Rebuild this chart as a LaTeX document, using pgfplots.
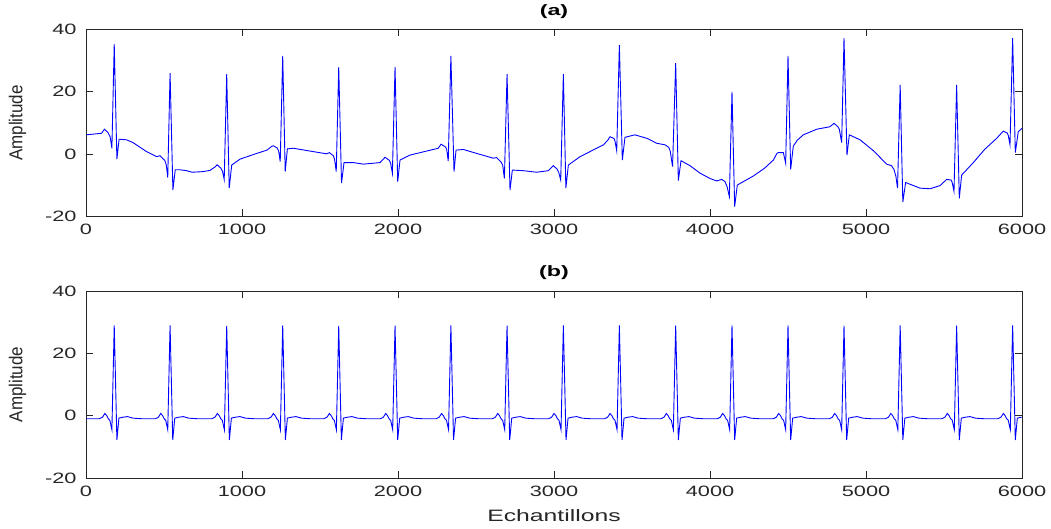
\documentclass[border=0pt]{standalone}
\usepackage{pgfplots}
\pgfplotsset{compat=1.18}
\usepackage{fontspec}
\setmainfont{Liberation Sans}
\definecolor{axc}{RGB}{38,38,38}
\definecolor{sig}{RGB}{0,0,255}
\pgfplotsset{
  ecg/.style={
    scale only axis, width=936pt, height=187pt,
    xmin=0, xmax=6000, ymin=-20, ymax=40,
    xtick={0,1000,...,6000}, ytick={-20,0,20,40},
    tick align=inside, tickpos=both,
    major tick length=7pt,
    axis line style={axc, line width=0.7pt},
    every tick/.style={axc, line width=0.9pt},
    scaled ticks=false,
    /pgf/number format/1000 sep={},
    /pgf/number format/assume math mode=true,
    tick label style={font=\fontsize{15}{15}\selectfont, text=axc, xscale=1.45},
    xticklabel style={yshift=-4pt},
    yticklabel style={xshift=-3pt},
    ylabel={Amplitude},
    ylabel shift=10pt,
    ylabel style={font=\fontsize{17}{17}\selectfont, text=axc, yscale=1.1},
    title style={font=\fontsize{15}{15}\selectfont\bfseries, text=black, xscale=1.55, at={(0.5,1)}, anchor=base, yshift=8pt},
    clip=true,
  }
}
\begin{document}
\begin{tikzpicture}
\begin{axis}[ecg, at={(86pt,312.5pt)}, anchor=south west, title={(a)}]
\addplot[sig, line width=0.9pt] coordinates {
(0,6.2) (100,6.7) (118,8.0) (140,7.0) (155,5.5) (166,1.9) (181,35.3) (198,-1.6) (212,4.8) (260,4.6) (302,3.7) (389,0.8) (453,-0.8)
(474,-0.5) (505,-2.0) (515,-3.5) (524,-7.5) (539,26.0) (557,-11.5) (572,-5.0) (600,-5.0) (645,-5.3) (680,-5.8) (750,-5.6) (795,-5.2) (830,-4.0)
(840,-3.4) (865,-4.5) (875,-5.5) (886,-8.1) (902,25.7) (918,-10.9) (934,-3.5) (987,-1.6) (1080,0.0) (1160,1.3) (1190,2.5)
(1200,2.7) (1225,2.0) (1235,1.0) (1245,-2.4) (1261,31.5) (1277,-5.6) (1291,1.7) (1330,1.9) (1400,1.3) (1543,0.1)
(1560,0.5) (1585,-0.5) (1593,-1.5) (1604,-5.6) (1620,27.9) (1638,-9.3) (1654,-2.7) (1714,-2.7) (1778,-3.2) (1885,-2.7)
(1917,-1.0) (1945,-2.0) (1953,-3.0) (1964,-6.1) (1981,27.9) (1998,-8.8) (2013,-1.9) (2077,-0.3) (2258,1.9)
(2276,3.2) (2305,2.3) (2312,1.5) (2322,-2.2) (2339,31.5) (2359,-5.6) (2372,1.3) (2419,1.5) (2500,0.3) (2611,-1.3)
(2632,-1.1) (2660,-2.5) (2671,-3.5) (2682,-7.8) (2699,25.7) (2718,-11.5) (2733,-5.1) (2803,-5.3) (2889,-5.8) (2964,-5.3)
(2996,-3.7) (3020,-4.8) (3030,-5.8) (3043,-8.3) (3060,25.7) (3076,-10.9) (3092,-3.5) (3167,-0.8) (3317,3.0) (3345,4.5)
(3359,5.6) (3385,5.0) (3391,4.2) (3402,1.1) (3419,35.0) (3438,-1.9) (3455,5.4) (3519,6.2) (3600,5.0) (3658,3.5) (3711,3.0)
(3735,2.2) (3745,1.0) (3760,-4.0) (3780,29.2) (3797,-8.5) (3814,-2.1) (3872,-3.7) (3936,-6.1) (4000,-7.8) (4043,-8.6)
(4075,-8.1) (4096,-8.8) (4110,-10.5) (4124,-13.6) (4141,20.0) (4158,-16.8) (4175,-9.9) (4278,-7.0) (4350,-4.5) (4406,-1.9) (4430,0.3)
(4438,0.5) (4470,0.5) (4476,-0.8) (4485,-2.9) (4500,31.5) (4517,-4.9) (4534,2.6) (4560,4.5) (4598,6.2) (4684,8.0) (4769,8.8)
(4795,9.9) (4820,8.8) (4829,8.0) (4844,3.7) (4859,37.2) (4878,-0.3) (4893,6.2) (4962,4.6) (5050,1.0) (5132,-3.2)
(5164,-3.7) (5180,-5.0) (5192,-7.2) (5202,-10.9) (5219,22.2) (5236,-15.4) (5254,-9.1) (5300,-10.0) (5346,-10.9) (5410,-11.1) (5474,-10.1)
(5517,-8.1) (5545,-8.3) (5552,-9.0) (5564,-11.9) (5581,22.2) (5598,-14.2) (5613,-6.7) (5688,-2.7) (5760,1.5) (5838,5.1)
(5880,7.4) (5905,6.8) (5912,6.0) (5923,3.0) (5940,37.2) (5957,0.5) (5976,7.2) (6000,8.3)
};
\end{axis}
\begin{axis}[ecg, at={(86pt,51pt)}, anchor=south west, title={(b)}, xlabel={Echantillons},
  xlabel style={font=\fontsize{16.5}{16.5}\selectfont, text=axc, xscale=1.5, yshift=-7pt}]
\addplot[sig, line width=0.9pt] coordinates {
(0,-1.0)
(86,-1.0) (106,-0.5) (121,0.7) (133,0.0) (143,-1.0) (153,-1.5) (166,-4.5) (181,29.0) (198,-7.8) (211,-0.8) (236,-0.5) (266,-0.3) (301,-0.8) (361,-1.0)
(444,-1.0) (464,-0.5) (479,0.7) (491,0.0) (501,-1.0) (511,-1.5) (524,-4.5) (539,29.0) (556,-7.8) (569,-0.8) (594,-0.5) (624,-0.3) (659,-0.8) (719,-1.0)
(807,-1.0) (827,-0.5) (842,0.7) (854,0.0) (864,-1.0) (874,-1.5) (887,-4.5) (902,28.8) (919,-7.8) (932,-0.8) (957,-0.5) (987,-0.3) (1022,-0.8) (1082,-1.0)
(1166,-1.0) (1186,-0.5) (1201,0.7) (1213,0.0) (1223,-1.0) (1233,-1.5) (1246,-4.5) (1261,29.0) (1278,-7.8) (1291,-0.8) (1316,-0.5) (1346,-0.3) (1381,-0.8) (1441,-1.0)
(1525,-1.0) (1545,-0.5) (1560,0.7) (1572,0.0) (1582,-1.0) (1592,-1.5) (1605,-4.5) (1620,28.8) (1637,-7.8) (1650,-0.8) (1675,-0.5) (1705,-0.3) (1740,-0.8) (1800,-1.0)
(1886,-1.0) (1906,-0.5) (1921,0.7) (1933,0.0) (1943,-1.0) (1953,-1.5) (1966,-4.5) (1981,28.9) (1998,-7.8) (2011,-0.8) (2036,-0.5) (2066,-0.3) (2101,-0.8) (2161,-1.0)
(2244,-1.0) (2264,-0.5) (2279,0.7) (2291,0.0) (2301,-1.0) (2311,-1.5) (2324,-4.5) (2339,29.0) (2356,-7.8) (2369,-0.8) (2394,-0.5) (2424,-0.3) (2459,-0.8) (2519,-1.0)
(2604,-1.0) (2624,-0.5) (2639,0.7) (2651,0.0) (2661,-1.0) (2671,-1.5) (2684,-4.5) (2699,28.9) (2716,-7.8) (2729,-0.8) (2754,-0.5) (2784,-0.3) (2819,-0.8) (2879,-1.0)
(2965,-1.0) (2985,-0.5) (3000,0.7) (3012,0.0) (3022,-1.0) (3032,-1.5) (3045,-4.5) (3060,29.0) (3077,-7.8) (3090,-0.8) (3115,-0.5) (3145,-0.3) (3180,-0.8) (3240,-1.0)
(3324,-1.0) (3344,-0.5) (3359,0.7) (3371,0.0) (3381,-1.0) (3391,-1.5) (3404,-4.5) (3419,29.0) (3436,-7.8) (3449,-0.8) (3474,-0.5) (3504,-0.3) (3539,-0.8) (3599,-1.0)
(3685,-1.0) (3705,-0.5) (3720,0.7) (3732,0.0) (3742,-1.0) (3752,-1.5) (3765,-4.5) (3780,28.9) (3797,-7.8) (3810,-0.8) (3835,-0.5) (3865,-0.3) (3900,-0.8) (3960,-1.0)
(4046,-1.0) (4066,-0.5) (4081,0.7) (4093,0.0) (4103,-1.0) (4113,-1.5) (4126,-4.5) (4141,29.0) (4158,-7.8) (4171,-0.8) (4196,-0.5) (4226,-0.3) (4261,-0.8) (4321,-1.0)
(4405,-1.0) (4425,-0.5) (4440,0.7) (4452,0.0) (4462,-1.0) (4472,-1.5) (4485,-4.5) (4500,29.0) (4517,-7.8) (4530,-0.8) (4555,-0.5) (4585,-0.3) (4620,-0.8) (4680,-1.0)
(4764,-1.0) (4784,-0.5) (4799,0.7) (4811,0.0) (4821,-1.0) (4831,-1.5) (4844,-4.5) (4859,28.9) (4876,-7.8) (4889,-0.8) (4914,-0.5) (4944,-0.3) (4979,-0.8) (5039,-1.0)
(5124,-1.0) (5144,-0.5) (5159,0.7) (5171,0.0) (5181,-1.0) (5191,-1.5) (5204,-4.5) (5219,29.0) (5236,-7.8) (5249,-0.8) (5274,-0.5) (5304,-0.3) (5339,-0.8) (5399,-1.0)
(5486,-1.0) (5506,-0.5) (5521,0.7) (5533,0.0) (5543,-1.0) (5553,-1.5) (5566,-4.5) (5581,28.9) (5598,-7.8) (5611,-0.8) (5636,-0.5) (5666,-0.3) (5701,-0.8) (5761,-1.0)
(5845,-1.0) (5865,-0.5) (5880,0.7) (5892,0.0) (5902,-1.0) (5912,-1.5) (5925,-4.5) (5940,29.0) (5957,-7.8) (5970,-0.8) (5995,-0.5) (6000,-0.5)
};
\end{axis}
\pgfresetboundingbox
\path[use as bounding box] (0,0) rectangle (1051pt,529pt);
\end{tikzpicture}
\end{document}
